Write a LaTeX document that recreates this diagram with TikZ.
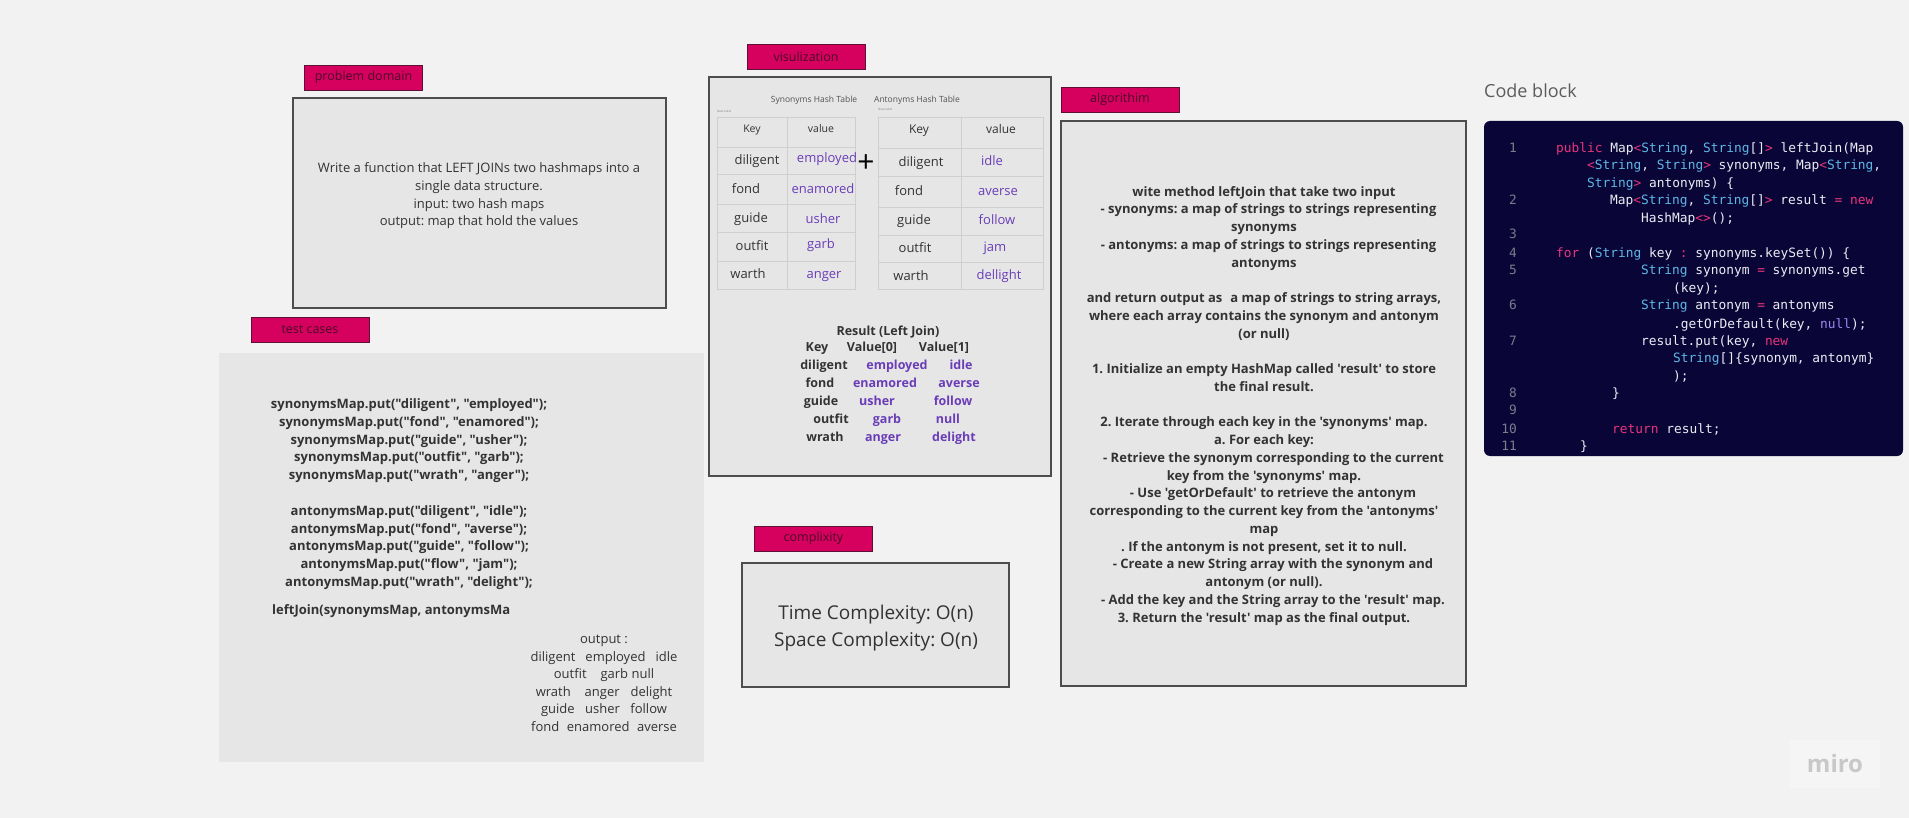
\documentclass[tikz,border=0pt]{standalone}
\usepackage{fontspec}
\newfontfamily\osans{Open Sans}
\newfontfamily\codefont{DejaVu Sans Mono}
\definecolor{canvas}{HTML}{F2F2F2}
\definecolor{panelfill}{HTML}{E6E6E6}
\definecolor{panelline}{HTML}{4D4D4D}
\definecolor{lblfill}{HTML}{D6005F}
\definecolor{lblline}{HTML}{5E1035}
\definecolor{lbltext}{HTML}{4A0A28}
\definecolor{ink}{HTML}{333333}
\definecolor{purp}{HTML}{6A3DB8}
\definecolor{gridc}{HTML}{CFCFCF}
\definecolor{codebg}{HTML}{0A0537}
\definecolor{codetext}{HTML}{ECECF4}
\definecolor{codekw}{HTML}{E8347C}
\definecolor{codety}{HTML}{5DB8E6}
\definecolor{codenu}{HTML}{9D86F2}
\definecolor{codenum}{HTML}{7C7C8C}
\definecolor{mirogrey}{HTML}{C8C8C8}
\definecolor{mirobox}{HTML}{F5F5F5}
\newcommand{\KwC}[1]{\textcolor{codekw}{#1}}
\newcommand{\TyC}[1]{\textcolor{codety}{#1}}
\newcommand{\NuC}[1]{\textcolor{codenu}{#1}}
\newcommand{\FS}[2]{\osans\fontsize{#1}{#2}\selectfont\frenchspacing}
\newcommand{\CF}{\codefont\fontsize{12.85}{15}\selectfont\frenchspacing}
\begin{document}
\begin{tikzpicture}[x=1pt,y=-1pt,
  lbl/.style={draw=lblline, fill=lblfill, line width=0.8pt, minimum width=118pt, minimum height=25pt, inner sep=0pt, text=lbltext, font=\FS{12.5}{14}},
  panel/.style={draw=panelline, fill=panelfill, line width=1.1pt, inner sep=0pt, outer sep=0pt, anchor=north west},
  txt/.style={inner sep=0pt, text=ink, align=center, anchor=base},
  tkey/.style={inner sep=0pt, text=ink, anchor=base, font=\FS{13}{15}},
  tval/.style={inner sep=0pt, text=purp, anchor=base, font=\FS{13}{15}},
  rkey/.style={inner sep=0pt, text=ink, anchor=base, font=\FS{12.5}{15}\bfseries},
  rval/.style={inner sep=0pt, text=purp, anchor=base, font=\FS{12.5}{15}\bfseries},
  gridline/.style={draw=gridc, line width=0.8pt},
  code/.style={inner sep=0pt, anchor=base west, text=codetext, font=\CF},
  lnum/.style={inner sep=0pt, anchor=base east, text=codenum, font=\CF}
]
\useasboundingbox[fill=canvas] (0,0) rectangle (1909,818);

% ---------- problem domain ----------
\node[lbl] (lprob) at (363.5,77.5) {problem domain};
\node[panel, minimum width=373pt, minimum height=210pt] (bprob) at (293,98) {};
\node[txt, font=\FS{13}{17.8}] (tprob) at (479,226) {Write a function that LEFT JOINs two hashmaps into a\\single data structure.\\input: two hash maps\\output: map that hold the values};

% ---------- test cases ----------
\node[lbl] (ltest) at (310,329.5) {test cases};
\node[panel, draw=none, minimum width=485pt, minimum height=409pt] (btest) at (219,353) {};
\node[txt, font=\FS{13}{17.8}\bfseries] (ttest) at (409,586.5) {synonymsMap.put("diligent", "employed");\\synonymsMap.put("fond", "enamored");\\synonymsMap.put("guide", "usher");\\synonymsMap.put("outfit", "garb");\\synonymsMap.put("wrath", "anger");\\~\\antonymsMap.put("diligent", "idle");\\antonymsMap.put("fond", "averse");\\antonymsMap.put("guide", "follow");\\antonymsMap.put("flow", "jam");\\antonymsMap.put("wrath", "delight");};
\node[txt, anchor=base west, font=\FS{13}{17.8}\bfseries] (tjoin) at (272,614) {leftJoin(synonymsMap, antonymsMa};
\node[txt, font=\FS{13}{17.6}] (tout) at (604,731.5) {output :\\diligent\hspace{10pt}employed\hspace{10pt}idle\\outfit\hspace{14pt}garb null\\wrath\hspace{14pt}anger\hspace{11pt}delight\\guide\hspace{10.5pt}usher\hspace{10.5pt}follow\\fond\hspace{7.5pt}enamored\hspace{7.5pt}averse};

% ---------- visualization ----------
\node[lbl] (lvis) at (806,56.5) {visulization};
\node[panel, minimum width=342pt, minimum height=399pt] (bvis) at (709,77) {};
\node[txt, text=ink!85, font=\FS{8.5}{10}] (hsyn) at (814,103) {Synonyms Hash Table};
\node[txt, text=ink!85, font=\FS{8.5}{10}] (hant) at (917,103) {Antonyms Hash Table};
\node[txt, anchor=base west, text=ink!60, font=\FS{3}{4}] (nsyn) at (717,113) {New table};
\node[txt, anchor=base west, text=ink!60, font=\FS{3}{4}] (nant) at (878,111) {New table};
% synonyms grid
\draw[gridline] (717,117) rectangle (855,289);
\draw[gridline] (787,117) -- (787,289);
\foreach \yy in {147,174,204,232,261} \draw[gridline] (717,\yy) -- (855,\yy);
% antonyms grid
\draw[gridline] (878,117) rectangle (1043,289);
\draw[gridline] (961,117) -- (961,289);
\foreach \yy in {148,176,207,235,262} \draw[gridline] (878,\yy) -- (1043,\yy);
\begin{scope}[yshift=-1.5pt]
% synonyms entries
\node[tkey, font=\FS{10.5}{12}] (sk0) at (752,131) {Key};
\node[tkey, font=\FS{10.5}{12}] (sv0) at (821,131) {value};
\node[tkey] (sk1) at (757,163) {diligent};
\node[tval] (sv1) at (827,161) {employed};
\node[tkey] (sk2) at (746,192) {fond};
\node[tval] (sv2) at (823,192) {enamored};
\node[tkey] (sk3) at (751,221) {guide};
\node[tval] (sv3) at (823,222) {usher};
\node[tkey] (sk4) at (752,249) {outfit};
\node[tval] (sv4) at (821,247) {garb};
\node[tkey] (sk5) at (748,277) {warth};
\node[tval] (sv5) at (824,277) {anger};
% antonyms entries
\node[tkey, font=\FS{12}{14}] (ak0) at (919,132) {Key};
\node[tkey, font=\FS{12}{14}] (av0) at (1001,132) {value};
\node[tkey] (ak1) at (921,165) {diligent};
\node[tval] (av1) at (992,164) {idle};
\node[tkey] (ak2) at (909,194) {fond};
\node[tval] (av2) at (998,194) {averse};
\node[tkey] (ak3) at (914,223) {guide};
\node[tval] (av3) at (997,223) {follow};
\node[tkey] (ak4) at (915,251) {outfit};
\node[tval] (av4) at (995,250) {jam};
\node[tkey] (ak5) at (911,279) {warth};
\node[tval] (av5) at (999,278) {dellight};
\end{scope}
% plus
\node[inner sep=0pt, text=black, font=\FS{30}{30}] (plus) at (866,164) {+};
% result
\node[rkey] (rtitle) at (888,335) {Result (Left Join)};
\node[rkey] (rh0) at (817,352) {Key};
\node[rkey] (rh1) at (872,352) {Value[0]};
\node[rkey] (rh2) at (944,352) {Value[1]};
\node[rkey] (rk1) at (824,369) {diligent};
\node[rval] (ra1) at (897,369) {employed};
\node[rval] (rb1) at (961,369) {idle};
\node[rkey] (rk2) at (820,387) {fond};
\node[rval] (ra2) at (885,387) {enamored};
\node[rval] (rb2) at (959,387) {averse};
\node[rkey] (rk3) at (821,405) {guide};
\node[rval] (ra3) at (877,405) {usher};
\node[rval] (rb3) at (953,405) {follow};
\node[rkey] (rk4) at (831,423) {outfit};
\node[rval] (ra4) at (887,423) {garb};
\node[rval] (rb4) at (948,423) {null};
\node[rkey] (rk5) at (825,441) {wrath};
\node[rval] (ra5) at (883,441) {anger};
\node[rval] (rb5) at (954,441) {delight};

% ---------- complexity ----------
\node[lbl] (lcomp) at (813.5,538.5) {complixity};
\node[panel, minimum width=267pt, minimum height=124pt] (bcomp) at (742,563) {};
\node[txt, font=\FS{19}{27}] (tcomp) at (876,646) {Time Complexity: O(n)\\Space Complexity: O(n)};

% ---------- algorithm ----------
\node[lbl] (lalg) at (1120,99.5) {algorithim};
\node[panel, minimum width=405pt, minimum height=565pt] (balg) at (1061,121) {};
\node[txt, font=\FS{13}{17.75}\bfseries] (talg) at (1264,622) {wite method leftJoin that take two input\\
\hspace*{9pt}- synonyms: a map of strings to strings representing\\
synonyms\\
\hspace*{9pt}- antonyms: a map of strings to strings representing\\
antonyms\\
~\\
and return output as\hspace{8pt}a map of strings to string arrays,\\
where each array contains the synonym and antonym\\
(or null)\\
~\\
1. Initialize an empty HashMap called 'result' to store\\
the final result.\\
~\\
2. Iterate through each key in the 'synonyms' map.\\
a. For each key:\\
\hspace*{19pt}- Retrieve the synonym corresponding to the current\\
key from the 'synonyms' map.\\
\hspace*{18pt}- Use 'getOrDefault' to retrieve the antonym\\
corresponding to the current key from the 'antonyms'\\
map\\
. If the antonym is not present, set it to null.\\
\hspace*{18pt}- Create a new String array with the synonym and\\
antonym (or null).\\
\hspace*{18pt}- Add the key and the String array to the 'result' map.\\
3. Return the 'result' map as the final output.};

% ---------- code block ----------
\node[inner sep=0pt, anchor=base west, text=ink!80, font=\FS{18}{20}] (tcode) at (1484,98) {Code block};
\node[panel, draw=none, fill=codebg, rounded corners=6pt, minimum width=419pt, minimum height=335pt] (bcode) at (1484,121) {};
\node[lnum] (n1) at (1517,153) {1};
\node[lnum] (n2) at (1517,205) {2};
\node[lnum] (n3) at (1517,239) {3};
\node[lnum] (n4) at (1517,258) {4};
\node[lnum] (n5) at (1517,275) {5};
\node[lnum] (n6) at (1517,310) {6};
\node[lnum] (n7) at (1517,345) {7};
\node[lnum] (n8) at (1517,397) {8};
\node[lnum] (n9) at (1517,414) {9};
\node[lnum] (n10) at (1517,433) {10};
\node[lnum] (n11) at (1517,450) {11};
\node[code] (c1a) at (1556,153) {\KwC{public} Map\KwC{<}\TyC{String}, \TyC{String}[]\KwC{>} leftJoin(Map};
\node[code] (c1b) at (1587,170) {\KwC{<}\TyC{String}, \TyC{String}\KwC{>} synonyms, Map\KwC{<}\TyC{String},};
\node[code] (c1c) at (1587,188) {\TyC{String}\KwC{>} antonyms) \{};
\node[code] (c2a) at (1610,205) {Map\KwC{<}\TyC{String}, \TyC{String}[]\KwC{>} result \KwC{=} \KwC{new}};
\node[code] (c2b) at (1641,223) {HashMap\KwC{<>}();};
\node[code] (c4) at (1556,258) {\KwC{for} (\TyC{String} key \KwC{:} synonyms.keySet()) \{};
\node[code] (c5a) at (1641,275) {\TyC{String} synonym \KwC{=} synonyms.get};
\node[code] (c5b) at (1673,293) {(key);};
\node[code] (c6a) at (1641,310) {\TyC{String} antonym \KwC{=} antonyms};
\node[code] (c6b) at (1673,328) {.getOrDefault(key, \NuC{null});};
\node[code] (c7a) at (1641,345) {result.put(key, \KwC{new}};
\node[code] (c7b) at (1673,362) {\TyC{String}[]\{synonym, antonym\}};
\node[code] (c7c) at (1673,380) {);};
\node[code] (c8) at (1612,397) {\}};
\node[code] (c10) at (1612,433) {\KwC{return} result;};
\node[code] (c11) at (1580,450) {\}};

% ---------- miro ----------
\node[draw=none, fill=mirobox, minimum width=90pt, minimum height=48pt, inner sep=0pt] (mirobg) at (1835,764) {};
\node[inner sep=0pt, text=mirogrey, font=\FS{24}{26}\bfseries] (miro) at (1835,763) {miro};
\end{tikzpicture}
\end{document}
